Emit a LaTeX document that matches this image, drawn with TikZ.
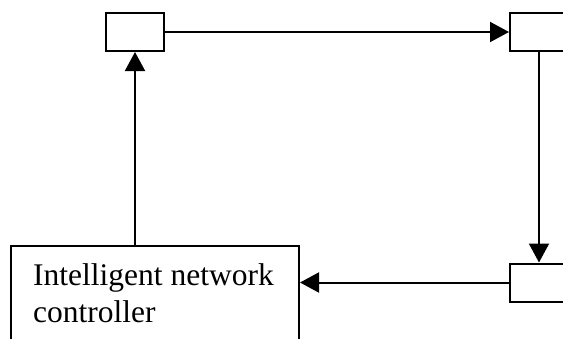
\documentclass[tikz,border=0pt]{standalone}
\usepackage{fontspec}
\setmainfont{Liberation Serif}
\usetikzlibrary{arrows.meta}
\begin{document}
\begin{tikzpicture}[x=1pt,y=-1pt,
  blk/.style={draw, line width=2pt, minimum width=58pt, minimum height=38pt, inner sep=0pt},
  conn/.style={line width=2pt, -{Triangle[width=20pt,length=19pt]}},
  ctrlbox/.style={draw, line width=2pt, minimum width=288pt, minimum height=120pt, anchor=north west, inner sep=0pt},
  lbl/.style={anchor=base west, align=left, font=\fontsize{31.5}{36.5}\selectfont, inner sep=0pt}]
\useasboundingbox (0,0) rectangle (563,338);
\clip (0,0) rectangle (563,338);
\fill[white] (0,0) rectangle (563,338);
\node[blk] (b1) at (135,32) {};
\node[blk] (b2) at (539,32) {};
\node[blk] (b3) at (539,282.5) {};
\node[ctrlbox] (ctrl) at (10,245) {};
\node[lbl] (txt) at (33,322) {Intelligent network\\controller};
\draw[conn] (b1.east) -- (b2.west);
\draw[conn] (b2.south) -- (b3.north);
\draw[conn] (b3.west) -- (b3.west -| ctrl.east);
\draw[conn] (b1.south |- ctrl.north) -- (b1.south);
\end{tikzpicture}
\end{document}
